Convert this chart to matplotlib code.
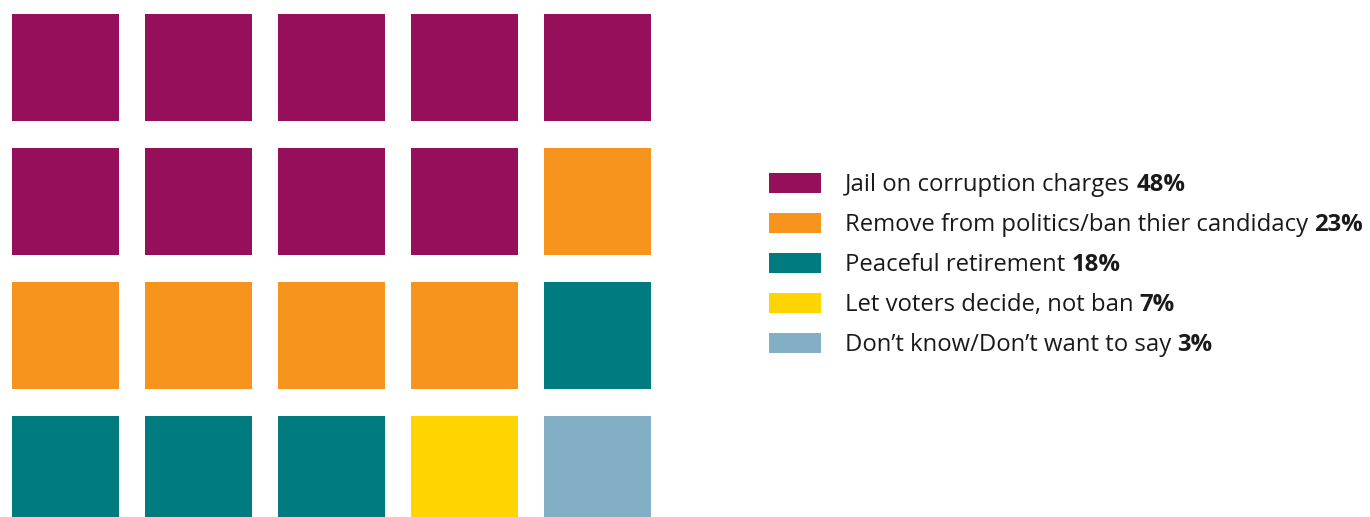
import matplotlib
matplotlib.use("Agg")
import matplotlib.pyplot as plt
from matplotlib.patches import Rectangle

plt.rcParams["font.family"] = ["Open Sans", "DejaVu Sans"]

# Survey answers, one square = 5% of respondents
labels = [
    "Jail on corruption charges",
    "Remove from politics/ban thier candidacy",
    "Peaceful retirement",
    "Let voters decide, not ban",
    "Don\u2019t know/Don\u2019t want to say",
]
percents = [48, 23, 18, 7, 3]
squares = [9, 5, 4, 1, 1]
colors = ["#960F5A", "#F7941E", "#007B80", "#FFD400", "#82AEC6"]

n_cols = 5

W, H = 1370, 517
fig = plt.figure(figsize=(W / 100, H / 100), dpi=100)
ax = fig.add_axes([0, 0, 1, 1])
ax.set_xlim(0, W)
ax.set_ylim(H, 0)
ax.axis("off")

# waffle grid, filled row by row
size = 107
x0, y0, dx, dy = 12, 14, 133, 134
idx = 0
for cat, count in enumerate(squares):
    for _ in range(count):
        r, c = divmod(idx, n_cols)
        ax.add_patch(Rectangle((x0 + c * dx, y0 + r * dy), size, size,
                               color=colors[cat], lw=0))
        idx += 1

# legend with bold percentages
fig.canvas.draw()
renderer = fig.canvas.get_renderer()
inv = ax.transData.inverted()
fs = 17.2
for i, (lab, pct, col) in enumerate(zip(labels, percents, colors)):
    yc = 183 + i * 40
    ax.add_patch(Rectangle((769, yc - 10), 52, 20, color=col, lw=0))
    t = ax.text(845, yc + 8, lab + " ", fontsize=fs, color="#1a1a1a",
                ha="left", va="baseline")
    bb = t.get_window_extent(renderer)
    xr = inv.transform((bb.x1, 0))[0]
    ax.text(xr, yc + 8, f"{pct}%", fontsize=fs, fontweight="bold",
            color="#1a1a1a", ha="left", va="baseline")

fig.savefig("out.png", dpi=100)
